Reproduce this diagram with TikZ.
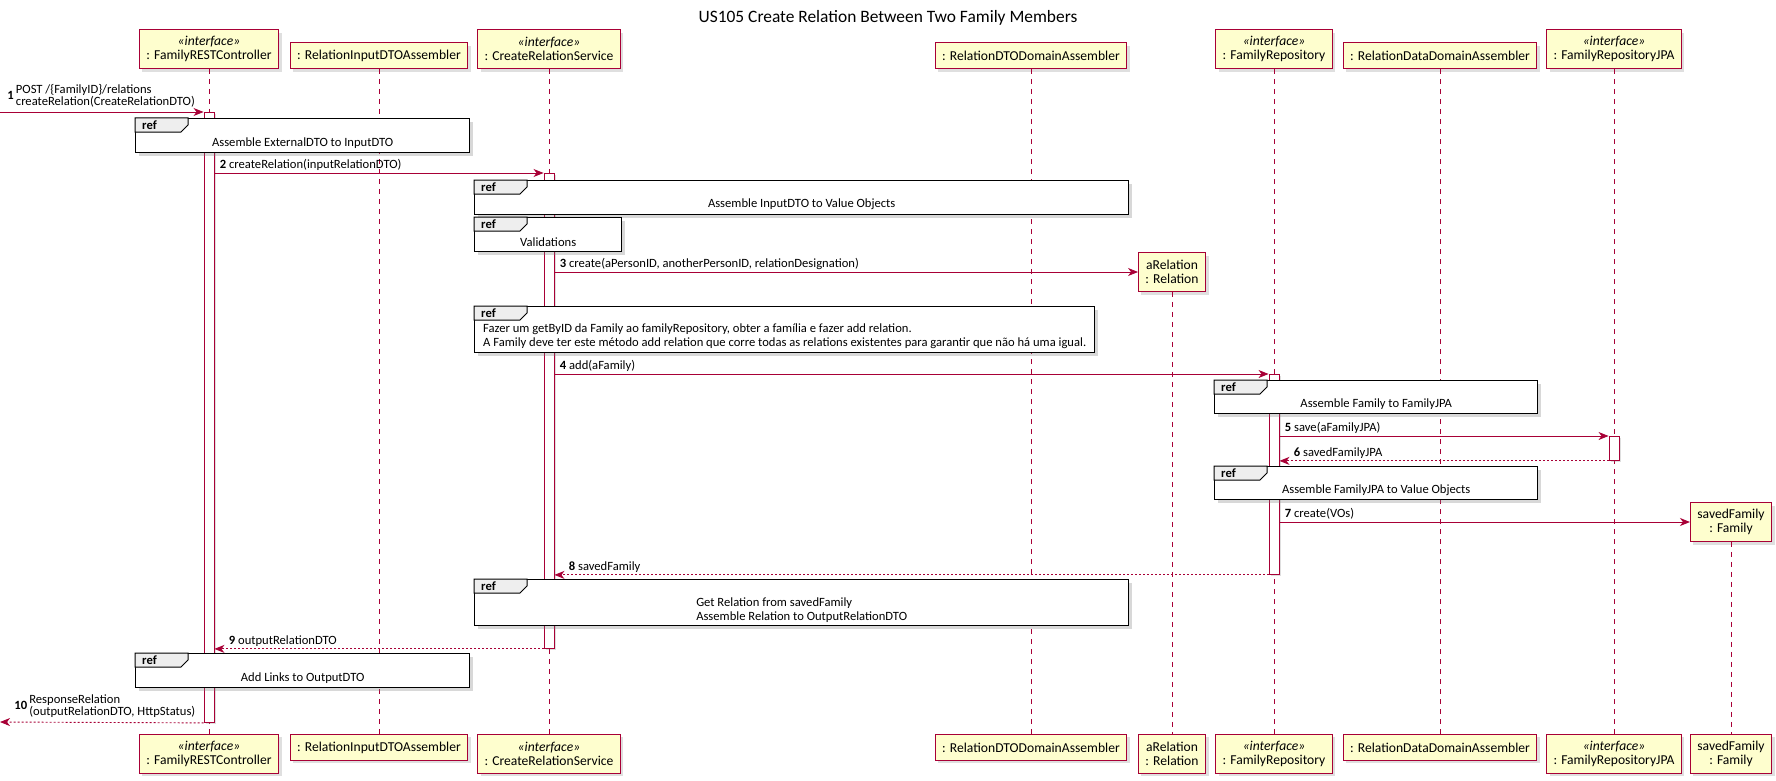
\documentclass[tikz,border=0pt]{standalone}
\usepackage{fontspec}
\setmainfont{Carlito}
\usetikzlibrary{arrows.meta, shadows}
\definecolor{umlred}{RGB}{168,0,54}
\definecolor{umlfill}{RGB}{254,254,206}
\definecolor{refgray}{RGB}{238,238,238}
\newcommand{\partfont}{\fontsize{13.6}{14}\selectfont}
\newcommand{\msgfont}{\fontsize{12.6}{14}\selectfont}
% ref frame: name, north west corner, width, height, text
\newcommand{\refframe}[5]{%
  \node[refbox, minimum width=#3pt, minimum height=#4pt] (#1) at (#2) {};
  \draw[reftab] (#1.north west) -- ++(53,0) -- ++(0,7) -- ++(-7,7) -- ++(-46,0) -- cycle;
  \node[font=\msgfont\bfseries, anchor=west, inner sep=0pt] (#1-tag) at ([shift={(7,7)}]#1.north west) {ref};
  \node[reftext] (#1-txt) at ([shift={(0,7)}]#1.center) {#5};
}

\begin{document}
\begin{tikzpicture}[x=1pt, y=-1pt,
    part/.style={draw=umlred, fill=umlfill, line width=0.9pt, font=\partfont, align=center,
      inner xsep=7pt, inner ysep=3pt, minimum height=26pt,
      drop shadow={shadow xshift=3pt, shadow yshift=-3pt, opacity=0.25}},
    tall/.style={part, minimum height=39pt},
    life/.style={draw=umlred, line width=0.8pt, dash pattern=on 5pt off 5pt},
    act/.style={draw=umlred, fill=white, line width=0.9pt, minimum width=10pt, inner sep=0pt, anchor=north,
      drop shadow={shadow xshift=2pt, shadow yshift=-2pt, opacity=0.25}},
    msg/.style={draw=umlred, line width=0.9pt, -{Stealth[length=10pt, width=8pt, inset=3pt]}},
    ret/.style={msg, dash pattern=on 2pt off 2pt},
    lbl/.style={font=\msgfont, inner sep=0pt, anchor=south west, yshift=2pt},
    refbox/.style={draw=black, line width=1.4pt, fill=white, anchor=north west, inner sep=0pt,
      drop shadow={shadow xshift=3pt, shadow yshift=-3pt, opacity=0.3}},
    reftab/.style={draw=black, line width=1pt, fill=refgray},
    reftext/.style={font=\msgfont, align=left, inner sep=0pt},
  ]
  \fill[white] (0,0) rectangle (1776,781);
  \useasboundingbox (0,0) rectangle (1776,781);

  \node[font=\fontsize{17.4}{20}\selectfont] (title) at (888,18) {US105 Create Relation Between Two Family Members};

  % participants, top
  \node[tall, anchor=south] (frc) at (209,69) {{\itshape «interface»}\\: FamilyRESTController};
  \node[part, anchor=south] (rida) at (379,69) {: RelationInputDTOAssembler};
  \node[tall, anchor=south] (crs) at (549,69) {{\itshape «interface»}\\: CreateRelationService};
  \node[part, anchor=south] (rda) at (1031,69) {: RelationDTODomainAssembler};
  \node[tall, anchor=south] (frepo) at (1274,69) {{\itshape «interface»}\\: FamilyRepository};
  \node[part, anchor=south] (rdda) at (1440,69) {: RelationDataDomainAssembler};
  \node[tall, anchor=south] (jpa) at (1614,69) {{\itshape «interface»}\\: FamilyRepositoryJPA};
  \node[tall] (arel) at (1172,272) {aRelation\\: Relation};
  \node[tall] (sfam) at (1731,522) {savedFamily\\: Family};

  % participants, bottom
  \node[tall, anchor=north] (frc-b) at (209,734) {{\itshape «interface»}\\: FamilyRESTController};
  \node[part, anchor=north] (rida-b) at (379,734) {: RelationInputDTOAssembler};
  \node[tall, anchor=north] (crs-b) at (549,734) {{\itshape «interface»}\\: CreateRelationService};
  \node[part, anchor=north] (rda-b) at (1031,734) {: RelationDTODomainAssembler};
  \node[tall, anchor=north] (arel-b) at (1172,734) {aRelation\\: Relation};
  \node[tall, anchor=north] (frepo-b) at (1274,734) {{\itshape «interface»}\\: FamilyRepository};
  \node[part, anchor=north] (rdda-b) at (1440,734) {: RelationDataDomainAssembler};
  \node[tall, anchor=north] (jpa-b) at (1614,734) {{\itshape «interface»}\\: FamilyRepositoryJPA};
  \node[tall, anchor=north] (sfam-b) at (1731,734) {savedFamily\\: Family};

  \foreach \p in {frc, rida, crs, rda, arel, frepo, rdda, jpa, sfam}
    \draw[life] (\p) -- (\p-b);

  % activations
  \node[act, minimum height=610pt] (a-frc) at (209,112) {};
  \node[act, minimum height=475pt] (a-crs) at (549,173) {};
  \node[act, minimum height=200pt] (a-fr) at (1274,374) {};
  \node[act, minimum height=24pt] (a-jpa) at (1614,436) {};

  % ref frames
  \refframe{r1}{135,118}{334}{34}{Assemble ExternalDTO to InputDTO}
  \refframe{r2}{474,180}{654}{34}{Assemble InputDTO to Value Objects}
  \refframe{r3}{474,217}{147}{34}{Validations}
  \refframe{r4}{474,306}{620}{46}{Fazer um getByID da Family ao familyRepository, obter a família e fazer add relation.\\A Family deve ter este método add relation que corre todas as relations existentes para garantir que não há uma igual.}
  \refframe{r5}{1214,380}{323}{33}{Assemble Family to FamilyJPA}
  \refframe{r6}{1214,466}{323}{33}{Assemble FamilyJPA to Value Objects}
  \refframe{r7}{474,579}{654}{46}{Get Relation from savedFamily\\Assemble Relation to OutputRelationDTO}
  \refframe{r8}{135,653}{334}{34}{Add Links to OutputDTO}

  % messages
  \coordinate (in1) at (0,112);
  \coordinate (out10) at (0,722);
  \draw[msg] (in1) -- (a-frc.west |- in1)
    node[lbl, at start, xshift=7pt] (l1) {\def\arraystretch{0.86}\textbf{1}\,\begin{tabular}{@{}l@{}}POST /\{FamilyID\}/relations\\createRelation(CreateRelationDTO)\end{tabular}};
  \draw[msg] (a-frc.east |- a-crs.north) -- (a-crs.north west)
    node[lbl, at start, xshift=5pt] (l2) {\textbf{2} createRelation(inputRelationDTO)};
  \draw[msg] (a-crs.east |- arel) -- (arel)
    node[lbl, at start, xshift=5pt] (l3) {\textbf{3} create(aPersonID, anotherPersonID, relationDesignation)};
  \draw[msg] (a-crs.east |- a-fr.north) -- (a-fr.north west)
    node[lbl, at start, xshift=5pt] (l4) {\textbf{4} add(aFamily)};
  \draw[msg] (a-fr.east |- a-jpa.north) -- (a-jpa.north west)
    node[lbl, at start, xshift=5pt] (l5) {\textbf{5} save(aFamilyJPA)};
  \draw[ret] (a-jpa.south west) -- (a-fr.east |- a-jpa.south)
    node[lbl, at end, xshift=14pt] (l6) {\textbf{6} savedFamilyJPA};
  \draw[msg] (a-fr.east |- sfam) -- (sfam)
    node[lbl, at start, xshift=5pt] (l7) {\textbf{7} create(VOs)};
  \draw[ret] (a-fr.south west) -- (a-crs.east |- a-fr.south)
    node[lbl, at end, xshift=14pt] (l8) {\textbf{8} savedFamily};
  \draw[ret] (a-crs.south west) -- (a-frc.east |- a-crs.south)
    node[lbl, at end, xshift=14pt] (l9) {\textbf{9} outputRelationDTO};
  \draw[ret] (a-frc.south west) -- (out10)
    node[lbl, at end, xshift=14pt] (l10) {\def\arraystretch{0.86}\textbf{10}\,\begin{tabular}{@{}l@{}}ResponseRelation\\(outputRelationDTO, HttpStatus)\end{tabular}};
\end{tikzpicture}
\end{document}
